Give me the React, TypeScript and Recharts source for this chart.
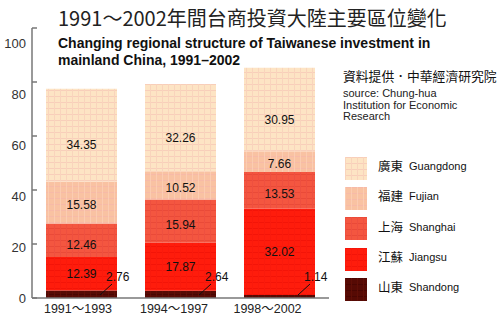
import React from 'react';
import { BarChart, Bar, XAxis, YAxis, LabelList, Legend } from 'recharts';

const periods = ['1991～1993', '1994～1997', '1998～2002'];
const shandong = [2.76, 2.64, 1.14];
const jiangsu = [12.39, 17.87, 32.02];
const shanghai = [12.46, 15.94, 13.53];
const fujian = [15.58, 10.52, 7.66];
const guangdong = [34.35, 32.26, 30.95];
const yTicks = [0, 20, 40, 60, 80, 100];
const boundaryTicks = [1, 2];

const title = '1991～2002年間台商投資大陸主要區位變化';
const subtitle1 = 'Changing regional structure of Taiwanese investment in';
const subtitle2 = 'mainland China, 1991–2002';
const sourceZh = '資料提供．中華經濟研究院';
const sourceEn = ['source: Chung-hua', 'Institution for Economic', 'Research'];

const legendItems = [
  { key: 'guangdong', zh: '廣東', en: 'Guangdong', fill: 'url(#pGd)' },
  { key: 'fujian', zh: '福建', en: 'Fujian', fill: 'url(#pFj)' },
  { key: 'shanghai', zh: '上海', en: 'Shanghai', fill: 'url(#pSh)' },
  { key: 'jiangsu', zh: '江蘇', en: 'Jiangsu', fill: 'url(#pJs)' },
  { key: 'shandong', zh: '山東', en: 'Shandong', fill: 'url(#pSd)' },
];

const data = periods.map((p, i) => ({
  period: p,
  shandong: shandong[i],
  jiangsu: jiangsu[i],
  shanghai: shanghai[i],
  fujian: fujian[i],
  guangdong: guangdong[i],
}));

const SANS = '"Liberation Sans", Arial, Helvetica, sans-serif';
const CJK = '"Noto Sans CJK TC", "Noto Sans CJK SC", sans-serif';

const xLabelShift = [-3.5, -6.5, -12];

const XTick = (props: any) => {
  const { x, y, payload, index } = props;
  return (
    <text
      x={x + (xLabelShift[index] || 0)}
      y={y + 11}
      textAnchor="middle"
      dominantBaseline="central"
      fontSize={12.5}
      fontFamily={`"Liberation Sans", ${CJK}`}
      fill="#222"
    >
      {payload.value}
    </text>
  );
};

const LeaderLabel = (props: any) => {
  const { x, y, width, height, value } = props;
  const bottom = y + height;
  const right = x + width;
  return (
    <g>
      <line x1={right - 17} y1={bottom - 3} x2={right - 5} y2={bottom - 14} stroke="#111" strokeWidth={1} />
      <text
        x={right - 11}
        y={bottom - 21}
        dominantBaseline="central"
        fontSize={12}
        fontFamily={SANS}
        fill="#111"
      >
        {value}
      </text>
    </g>
  );
};

const LegendContent = () => (
  <div style={{ width: 160 }}>
    {legendItems.map((it) => (
      <div key={it.key} style={{ display: 'flex', alignItems: 'center', height: 30.3 }}>
        <svg width={22} height={23} style={{ display: 'block' }}>
          <rect x={0} y={0} width={22} height={23} fill={it.fill} />
        </svg>
        <span style={{ marginLeft: 11, fontFamily: CJK, fontSize: 12.5, color: '#111', lineHeight: '14px', position: 'relative', top: -2 }}>{it.zh}</span>
        <span style={{ marginLeft: 6, fontFamily: SANS, fontSize: 11, color: '#111', lineHeight: '14px', position: 'relative', top: -2 }}>{it.en}</span>
      </div>
    ))}
  </div>
);

const labelStyle = { fontSize: 12, fontFamily: SANS, fill: '#111' };

export default function App() {
  return (
    <div style={{ position: 'absolute', left: 0, top: 0, width: 500, height: 321, background: '#fff' }}>
      <BarChart
        width={500}
        height={321}
        data={data}
        margin={{ top: 28, right: 171, bottom: 0, left: 0 }}
      >
        <defs>
          <pattern id="pGd" width={6} height={6} patternUnits="userSpaceOnUse">
            <rect width={6} height={6} fill="#fde4c4" />
            <rect width={6} height={1} fill="#f8ceba" />
            <rect width={1} height={6} fill="#f9d4bc" />
          </pattern>
          <pattern id="pFj" width={6} height={6} patternUnits="userSpaceOnUse">
            <rect width={6} height={6} fill="#f9c2a2" />
            <rect width={6} height={1} fill="#f7baa8" />
            <rect width={1} height={6} fill="#fbccb2" />
          </pattern>
          <pattern id="pSh" width={6} height={6} patternUnits="userSpaceOnUse">
            <rect width={6} height={6} fill="#f45640" />
            <rect width={6} height={1} fill="#ea4a38" />
            <rect width={1} height={6} fill="#ee5040" />
          </pattern>
          <pattern id="pJs" width={6} height={6} patternUnits="userSpaceOnUse">
            <rect width={6} height={6} fill="#ff1c0c" />
            <rect width={6} height={1} fill="#f41408" />
            <rect width={1} height={6} fill="#fa1a0c" />
          </pattern>
          <pattern id="pSd" width={6} height={6} patternUnits="userSpaceOnUse">
            <rect width={6} height={6} fill="#560a04" />
            <rect width={6} height={1} fill="#4a0602" />
            <rect width={1} height={6} fill="#600e06" />
          </pattern>
        </defs>

        <text x={58} y={17} dominantBaseline="central" fontSize={20} fontFamily={CJK} fill="#222">{title}</text>
        <text x={58} y={43} dominantBaseline="central" fontSize={14} fontWeight="bold" fontFamily={SANS} fill="#111">{subtitle1}</text>
        <text x={58} y={59.5} dominantBaseline="central" fontSize={14} fontWeight="bold" fontFamily={SANS} fill="#111">{subtitle2}</text>
        <text x={343} y={75} dominantBaseline="central" fontSize={12.8} fontFamily={CJK} fill="#111">{sourceZh}</text>
        {sourceEn.map((s, i) => (
          <text key={s} x={343} y={93 + i * 11.5} dominantBaseline="central" fontSize={11} fontFamily={SANS} fill="#222">{s}</text>
        ))}

        <XAxis
          dataKey="period"
          height={23}
          axisLine={{ stroke: '#777', strokeWidth: 1.5 }}
          tickLine={false}
          tickSize={0}
          tickMargin={0}
          tick={<XTick />}
          interval={0}
        />
        <XAxis
          xAxisId="b"
          type="number"
          domain={[0, 3]}
          allowDataOverflow
          ticks={boundaryTicks}
          mirror
          axisLine={false}
          tickSize={5}
          tickLine={{ stroke: '#777', strokeWidth: 1.5 }}
          tickFormatter={() => ''}
          height={0}
        />
        <YAxis
          yAxisId="bar"
          type="number"
          domain={[0, 100]}
          allowDataOverflow
          ticks={yTicks}
          mirror
          tickSize={5}
          axisLine={{ stroke: '#777', strokeWidth: 1.5 }}
          tickLine={{ stroke: '#777', strokeWidth: 1.5 }}
          tickFormatter={() => ''}
        />
        <YAxis
          yAxisId="lbl"
          type="number"
          domain={[0, 105.9]}
          allowDataOverflow
          ticks={yTicks}
          width={32}
          axisLine={false}
          tickLine={false}
          tickSize={0}
          tickMargin={6}
          tick={{ fontSize: 13, fontFamily: SANS, fill: '#333' }}
        />

        <Legend
          layout="vertical"
          align="center"
          verticalAlign="middle"
          content={<LegendContent />}
          wrapperStyle={{ left: 345, top: 153, width: 160 }}
        />

        <Bar dataKey="shandong" stackId="s" yAxisId="bar" barSize={71} fill="url(#pSd)" isAnimationActive={false}>
          <LabelList dataKey="shandong" content={<LeaderLabel />} />
        </Bar>
        <Bar dataKey="jiangsu" stackId="s" yAxisId="bar" barSize={71} fill="url(#pJs)" isAnimationActive={false}>
          <LabelList dataKey="jiangsu" position="center" style={labelStyle} />
        </Bar>
        <Bar dataKey="shanghai" stackId="s" yAxisId="bar" barSize={71} fill="url(#pSh)" isAnimationActive={false}>
          <LabelList dataKey="shanghai" position="center" dy={4} style={labelStyle} />
        </Bar>
        <Bar dataKey="fujian" stackId="s" yAxisId="bar" barSize={71} fill="url(#pFj)" isAnimationActive={false}>
          <LabelList dataKey="fujian" position="center" dy={2} style={labelStyle} />
        </Bar>
        <Bar dataKey="guangdong" stackId="s" yAxisId="bar" barSize={71} fill="url(#pGd)" isAnimationActive={false}>
          <LabelList dataKey="guangdong" position="center" dy={10} style={labelStyle} />
        </Bar>
      </BarChart>
    </div>
  );
}
